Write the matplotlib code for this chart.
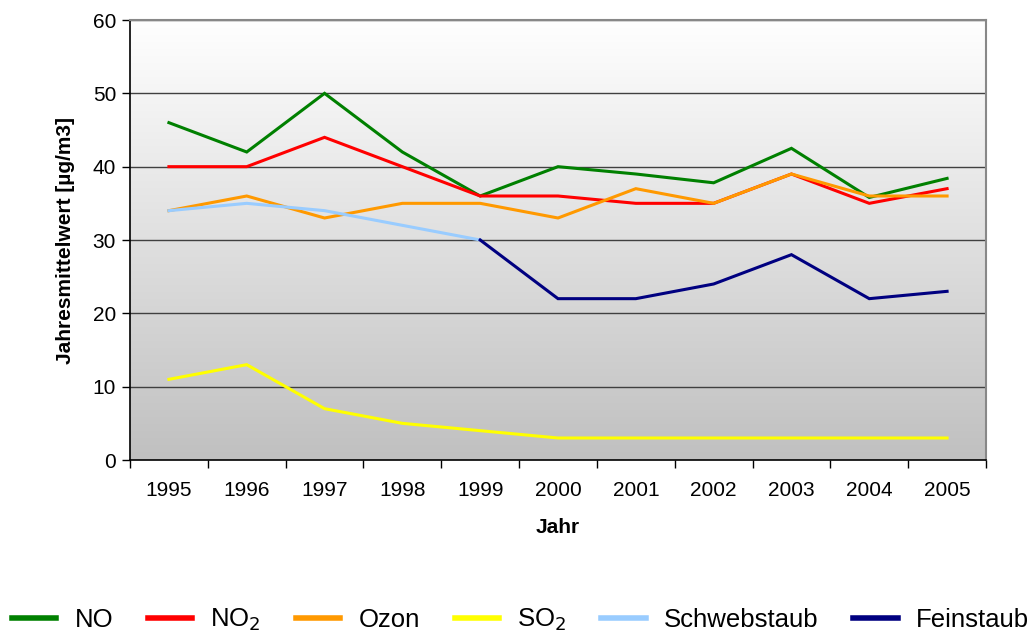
import numpy as np
import matplotlib.pyplot as plt
from matplotlib.lines import Line2D

plt.rcParams['font.family'] = ['Liberation Sans', 'DejaVu Sans']

years = ['1995', '1996', '1997', '1998', '1999', '2000',
         '2001', '2002', '2003', '2004', '2005']

no = [46, 42, 50, 42, 36, 40, 39, 37.8, 42.5, 35.8, 38.4]
no2 = [40, 40, 44, 40, 36, 36, 35, 35, 39, 35, 37]
ozon = [34, 36, 33, 35, 35, 33, 37, 35, 39, 36, 36]
so2 = [11, 13, 7, 5, 4, 3, 3, 3, 3, 3, 3]
schwebstaub = [34, 35, 34, 32, 30, None, None, None, None, None, None]
feinstaub = [None, None, None, None, 30, 22, 22, 24, 28, 22, 23]

series = [
    ('NO', no, '#008000'),
    ('NO$_2$', no2, '#ff0000'),
    ('Ozon', ozon, '#ff9900'),
    ('SO$_2$', so2, '#ffff00'),
    ('Schwebstaub', schwebstaub, '#99ccff'),
    ('Feinstaub', feinstaub, '#000080'),
]

fig = plt.figure(figsize=(10.29, 6.33), dpi=100)
ax = fig.add_axes([130 / 1029, 173 / 633, 856 / 1029, 440 / 633])

# gradient background (white at top, grey at bottom)
grad = np.linspace(0, 1, 256).reshape(-1, 1)
ax.imshow(grad, extent=[0, 1, 0, 1], transform=ax.transAxes, aspect='auto',
          cmap=plt.matplotlib.colors.LinearSegmentedColormap.from_list(
              'bg', ['#ffffff', '#c0c0c0']),
          zorder=0)

x = np.arange(len(years))
for name, vals, col in series:
    y = np.array([np.nan if v is None else v for v in vals], dtype=float)
    ax.plot(x, y, color=col, lw=2.2, zorder=3, solid_joinstyle='miter')

ax.set_xlim(-0.5, len(years) - 0.5)
ax.set_ylim(0, 60)
ax.set_yticks(range(0, 61, 10))
for v in range(10, 61, 10):
    ax.axhline(v, color='#404040', lw=1, zorder=2)

ax.set_xticks(x)
ax.set_xticklabels(years)
ax.set_xticks(np.arange(-0.5, len(years), 1), minor=True)
ax.tick_params(axis='x', which='major', length=0, pad=15, labelsize=15)
ax.tick_params(axis='x', which='minor', length=6, width=1, direction='out')
ax.tick_params(axis='y', length=6, width=1, direction='out', pad=4, labelsize=15)

for s in ['left', 'bottom']:
    ax.spines[s].set_color('black')
    ax.spines[s].set_linewidth(1.2)
for s in ['top', 'right']:
    ax.spines[s].set_color('#888888')
    ax.spines[s].set_linewidth(1.5)

ax.set_xlabel('Jahr', fontsize=15, fontweight='bold', labelpad=13)
ax.set_ylabel('Jahresmittelwert [µg/m3]', fontsize=15, fontweight='bold', labelpad=13)

handles = [Line2D([], [], color=col, lw=4) for _, _, col in series]
labels = [name for name, _, _ in series]
fig.legend(handles, labels, loc='center left', bbox_to_anchor=(12 / 1029, 13 / 633),
           ncol=6, frameon=False, fontsize=18.5, handlelength=1.73,
           handletextpad=0.7, columnspacing=1.36, borderpad=0, borderaxespad=0)

fig.savefig('out.png', dpi=100)
